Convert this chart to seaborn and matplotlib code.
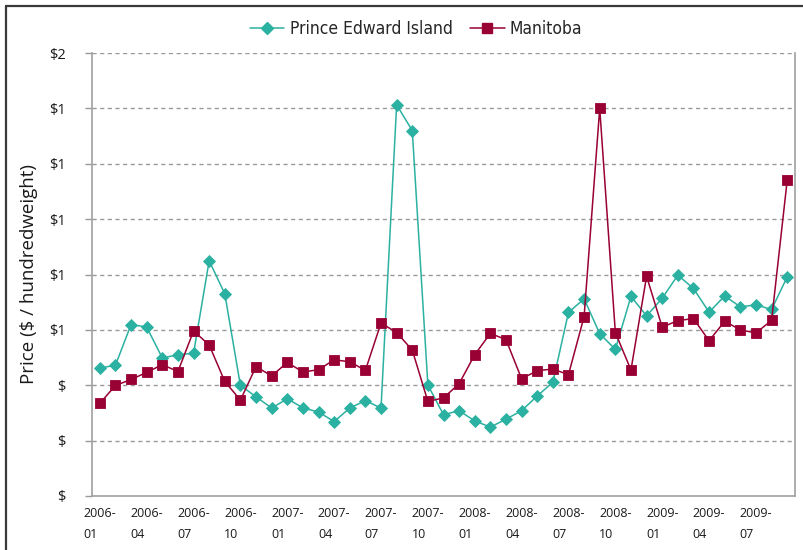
import numpy as np
import pandas as pd
import seaborn as sns
import matplotlib
matplotlib.use("Agg")
import matplotlib.pyplot as plt
from matplotlib.lines import Line2D
from matplotlib import font_manager

# Monthly prices, 2006-01 .. 2009-09
months = pd.period_range("2006-01", "2009-09", freq="M").strftime("%Y-%m").tolist()

pei = [0.578, 0.590, 0.774, 0.763, 0.623, 0.638, 0.644, 1.062, 0.913, 0.499,
       0.448, 0.397, 0.439, 0.398, 0.379, 0.336, 0.397, 0.431, 0.397, 1.766,
       1.650, 0.501, 0.367, 0.385, 0.339, 0.311, 0.347, 0.385, 0.452, 0.513,
       0.829, 0.890, 0.733, 0.662, 0.901, 0.813, 0.893, 0.997, 0.937, 0.830,
       0.903, 0.854, 0.863, 0.842, 0.989]

manitoba = [0.418, 0.499, 0.526, 0.558, 0.593, 0.562, 0.745, 0.682, 0.517, 0.433,
            0.584, 0.542, 0.603, 0.560, 0.570, 0.615, 0.606, 0.567, 0.781, 0.738,
            0.659, 0.427, 0.443, 0.507, 0.638, 0.734, 0.706, 0.529, 0.566, 0.573,
            0.548, 0.810, 1.750, 0.738, 0.569, 0.992, 0.762, 0.792, 0.801, 0.701,
            0.789, 0.750, 0.736, 0.793, 1.425]

series_names = ["Prince Edward Island", "Manitoba"]
colors = {"Prince Edward Island": "#2bb1a1", "Manitoba": "#990033"}
markers = {"Prince Edward Island": "D", "Manitoba": "s"}

y_ticks = [0, 0.25, 0.5, 0.75, 1.0, 1.25, 1.5, 1.75, 2.0]
y_tick_labels = ["$", "$", "$", "$1", "$1", "$1", "$1", "$1", "$2"]

df = pd.DataFrame({
    "idx": list(range(len(months))) * 2,
    "month": months * 2,
    "price": pei + manitoba,
    "region": [series_names[0]] * len(pei) + [series_names[1]] * len(manitoba),
})

available = {f.name for f in font_manager.fontManager.ttflist}
base_font = "Open Sans" if "Open Sans" in available else "DejaVu Sans"

sns.set_style("white")
plt.rcParams["font.family"] = [base_font, "DejaVu Sans"]

W, H = 804, 550
fig = plt.figure(figsize=(W / 100, H / 100), dpi=100)
ax = fig.add_axes([92 / W, (H - 496) / H, (795 - 92) / W, (496 - 53) / H])

sns.lineplot(data=df, x="idx", y="price", hue="region", style="region",
             hue_order=series_names, style_order=series_names,
             palette=colors, markers=markers, dashes=False,
             linewidth=1.1, markeredgewidth=0.6, ax=ax, legend=False)
for ln in ax.lines:
    c = ln.get_color()
    ln.set_markeredgecolor(c)
    ln.set_markerfacecolor(c)
    ln.set_markersize(6.0 if ln.get_marker() == "D" else 6.6)

n = len(months)
ax.set_xlim(-0.5, n - 0.5)
ax.set_ylim(0, 2.0)

# x labels centred on every third month, tick marks on category boundaries
label_pos = list(range(0, n - 1, 3))
ax.set_xticks(label_pos)
ax.set_xticklabels([months[i].replace("-", "-\n") for i in label_pos],
                   multialignment="left", fontsize=9, color="#1a1a1a", linespacing=1.75)
ax.set_xticks([p - 0.5 for p in label_pos] + [n - 0.5], minor=True)
ax.tick_params(axis="x", which="major", length=0, pad=8)
ax.tick_params(axis="x", which="minor", length=4, width=1, color="#999999", direction="out")

ax.set_yticks(y_ticks)
ax.set_yticklabels(y_tick_labels, fontsize=10.5, color="#1a1a1a")
ax.tick_params(axis="y", which="major", length=5, width=1, color="#999999",
               direction="out", pad=14, left=True)

for yv in y_ticks[1:]:
    ax.axhline(yv, color="#9a9a9a", linewidth=1.0, linestyle=(0, (3, 2.5)), zorder=0)

for side in ["left", "bottom", "right"]:
    ax.spines[side].set_color("#a0a0a0")
    ax.spines[side].set_linewidth(1.2)
ax.spines["top"].set_visible(False)

ax.set_xlabel("")
ax.set_ylabel("Price ($ / hundredweight)", fontsize=13.5, color="#1a1a1a", labelpad=8)

handles = [Line2D([], [], color=colors[s], marker=markers[s], markersize=6.0 if markers[s] == "D" else 6.6,
                  linewidth=1.1, markeredgecolor=colors[s]) for s in series_names]
fig.legend(handles, series_names, loc="center", bbox_to_anchor=(416 / W, (H - 29) / H),
           ncol=2, frameon=False,
           prop={"family": "DejaVu Sans", "stretch": "condensed", "size": 12.5},
           handlelength=2.0, columnspacing=1.0, handletextpad=0.3)

# outer frame (top and left edges)
fig.add_artist(Line2D([6 / W, 1.0], [(H - 5.5) / H] * 2, transform=fig.transFigure,
                      color="#3a3a3a", linewidth=1.6))
fig.add_artist(Line2D([6 / W] * 2, [0, (H - 5.5) / H], transform=fig.transFigure,
                      color="#3a3a3a", linewidth=1.6))

fig.savefig("out.png", dpi=100)
